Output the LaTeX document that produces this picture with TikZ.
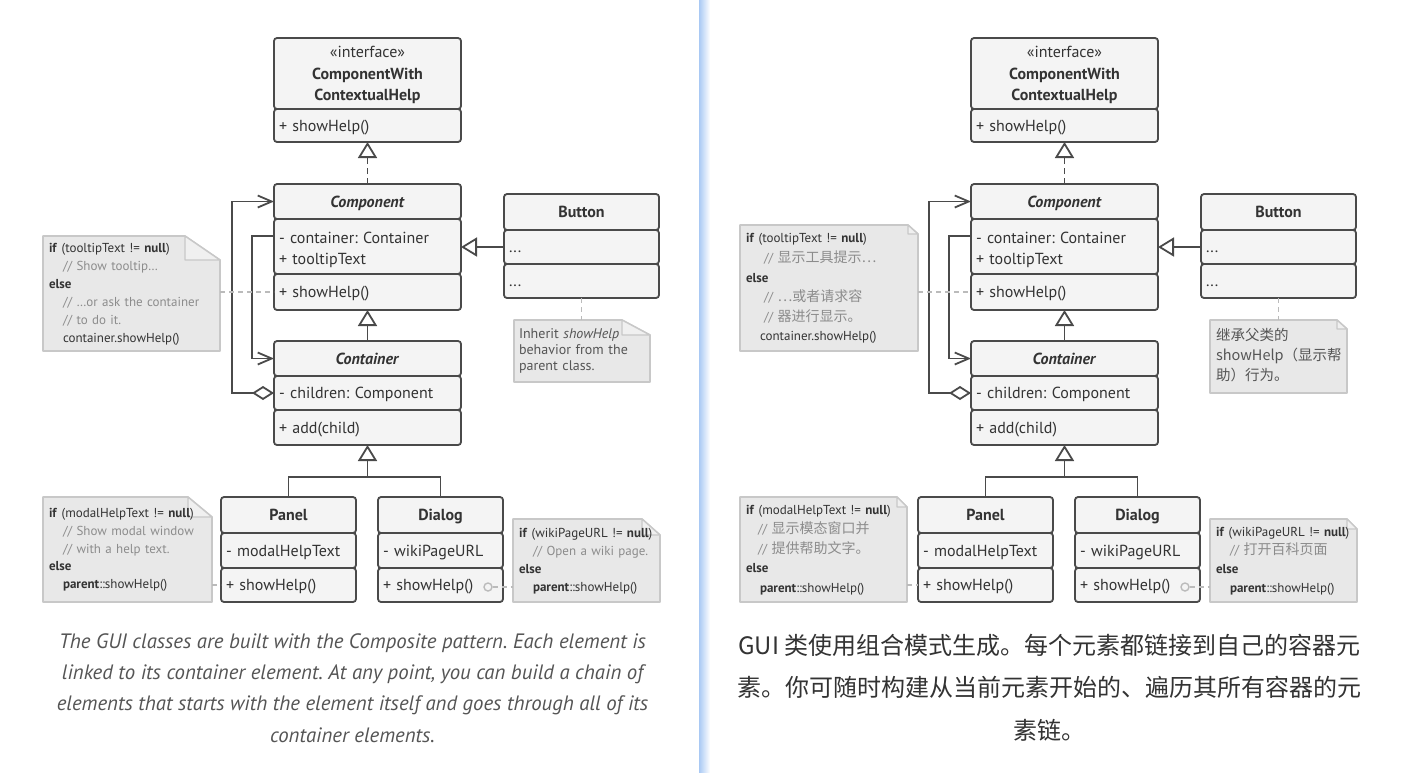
\documentclass[tikz,border=0pt]{standalone}
\usepackage{fontspec}
\setmainfont{PT Sans}
\newfontfamily\cjk{Noto Sans CJK SC}
\usetikzlibrary{arrows.meta,calc}
\pgfdeclarelayer{bg}\pgfsetlayers{bg,main}
\frenchspacing
\definecolor{lineC}{HTML}{4A4A4A}
\definecolor{fillC}{HTML}{F4F4F4}
\definecolor{noteF}{HTML}{E8E8E8}
\definecolor{foldF}{HTML}{F0F0F0}
\definecolor{noteB}{HTML}{C8C8C8}
\definecolor{connC}{HTML}{BBBBBB}
\definecolor{txt}{HTML}{333333}
\definecolor{cmt}{HTML}{8C8C8C}
\definecolor{capC}{HTML}{555555}
\definecolor{divB}{HTML}{A9C9F4}
\newcommand\zh[1]{{\cjk\fontsize{14}{19}\selectfont #1}}
\tikzset{
  part/.style={draw=lineC, fill=fillC, line width=1.8pt, rounded corners=3pt, outer sep=0pt,
    inner xsep=5pt, inner ysep=0pt, anchor=north west, text=txt, align=left,
    font=\fontsize{16}{21.5}\selectfont},
  one/.style={text height=14pt, text depth=3pt},
  hdr/.style={align=center, font=\bfseries\fontsize{16}{21.5}\selectfont},
  gen/.style={draw=lineC, line width=1.8pt, -{Triangle[open, length=16pt, width=19pt]}},
  real/.style={gen, dash pattern=on 6pt off 4pt},
  plain/.style={draw=lineC, line width=1.8pt},
  assoc/.style={draw=lineC, line width=1.8pt, -{Straight Barb[length=14pt, width=12pt]}},
  agg/.style={draw=lineC, line width=1.8pt, {Diamond[open, length=22pt, width=14pt]}-{Straight Barb[length=14pt, width=12pt]}},
  nconn/.style={draw=connC, line width=1.6pt, dash pattern=on 5pt off 4pt},
  note/.style={anchor=north west, inner xsep=6pt, inner ysep=0pt, outer sep=0pt, align=left, text=txt,
    font=\fontsize{13}{18}\selectfont},
  noteline/.style={draw=noteB, fill=noteF, line width=1.6pt, line join=round},
  foldline/.style={draw=noteB, fill=foldF, line width=1.4pt, line join=round},
  dcirc/.style={circle, draw=connC, fill=fillC, line width=1.4pt, minimum size=8pt, inner sep=0pt},
}
% note outline with dog-ear: name, fold width, fold height
\newcommand\noteshape[3]{%
  \begin{pgfonlayer}{bg}
  \path[noteline] (#1.north west) -- ($(#1.north east)+(-#2,0)$) -- ($(#1.north east)+(0,#3)$)
     -- (#1.south east) -- (#1.south west) -- cycle;
  \path[foldline] ($(#1.north east)+(-#2,0)$) -- ($(#1.north east)+(-#2,#3)$) -- ($(#1.north east)+(0,#3)$) -- cycle;
  \end{pgfonlayer}}
\newcommand\classes{%
  % interface
  \node[part,hdr,minimum width=187pt,text width=177pt,minimum height=71pt,text height=14pt,text depth=46pt] (ih) at (274,38)
    {{\mdseries «interface»}\\ComponentWith\\ContextualHelp};
  \node[part,one,minimum width=187pt,text width=177pt,minimum height=33pt] (im) at (ih.south west) {+ showHelp()};
  % component
  \node[part,hdr,one,minimum width=187pt,text width=177pt,minimum height=35pt] (ch) at (274,184) {\textit{Component}};
  \node[part,minimum width=187pt,text width=177pt,minimum height=55pt,text height=14pt,text depth=21pt] (ca) at (ch.south west) {- container: Container\\+ tooltipText};
  \node[part,one,minimum width=187pt,text width=177pt,minimum height=36pt] (cm) at (ca.south west) {+ showHelp()};
  % container
  \node[part,hdr,one,minimum width=187pt,text width=177pt,minimum height=35pt] (kh) at (274,341) {\textit{Container}};
  \node[part,one,minimum width=187pt,text width=177pt,minimum height=34pt] (ka) at (kh.south west) {- children: Component};
  \node[part,one,minimum width=187pt,text width=177pt,minimum height=35pt] (km) at (ka.south west) {+ add(child)};
  % button
  \node[part,hdr,one,minimum width=155pt,text width=145pt,minimum height=36pt] (bh) at (504,194) {Button};
  \node[part,one,minimum width=155pt,text width=145pt,minimum height=34pt] (ba) at (bh.south west) {...};
  \node[part,one,minimum width=155pt,text width=145pt,minimum height=34pt] (bm) at (ba.south west) {...};
  % panel
  \node[part,hdr,one,minimum width=135pt,text width=125pt,minimum height=36pt] (ph) at (221,497) {Panel};
  \node[part,one,minimum width=135pt,text width=125pt,minimum height=35pt] (pa) at (ph.south west) {- modalHelpText};
  \node[part,one,minimum width=135pt,text width=125pt,minimum height=34pt] (pm) at (pa.south west) {+ showHelp()};
  % dialog
  \node[part,hdr,one,minimum width=125pt,text width=115pt,minimum height=36pt] (dh) at (378,497) {Dialog};
  \node[part,one,minimum width=125pt,text width=115pt,minimum height=35pt] (da) at (dh.south west) {- wikiPageURL};
  \node[part,one,minimum width=125pt,text width=115pt,minimum height=34pt] (dm) at (da.south west) {+ showHelp()};
  \node[dcirc] (dc) at ($(dm.east)+(-15,2)$) {};
  % relations
  \draw[real] (ch.north) -- (im.south);
  \draw[gen] (kh.north) -- (cm.south);
  \coordinate (j) at ($(km.south)+(0,32)$);
  \draw[plain] (ph.north) |- (j);
  \draw[plain] (dh.north) |- (j);
  \draw[gen] (j) -- (km.south);
  \draw[gen] (ba.west) -- (ba.west -| ca.east);
  \draw[assoc] ($(ca.north west)+(0,17)$) -- ++(-22,0) |- (kh.west);
  \draw[agg] (ka.west) -- ++(-42,0) |- (ch.west);
}
\begin{document}
\begin{tikzpicture}[x=1pt,y=-1pt]
\useasboundingbox (0,0) rectangle (1403,772);
\begin{pgfonlayer}{bg}
\fill[white] (0,0) rectangle (1403,772);
% divider
\shade[left color=divB, right color=white] (699,0) rectangle (710,772);
\end{pgfonlayer}

% ---------------- left panel ----------------
\begin{scope}[name prefix=l-]
\classes
\node[note, text width=165pt, minimum height=115pt] (n1) at (43,236) {\begin{tabular}{@{}l@{}}
\textbf{if} (tooltipText != \textbf{null})\\
\hspace{14pt}\textcolor{cmt}{// Show tooltip…}\\
\textbf{else}\\
\hspace{14pt}\textcolor{cmt}{// …or ask the container}\\
\hspace{14pt}\textcolor{cmt}{// to do it.}\\
\hspace{14pt}container.showHelp()
\end{tabular}};
\noteshape{n1}{35}{24}
\node[note, inner xsep=5pt, text width=126pt, minimum height=62pt, font=\fontsize{14}{16}\selectfont, text=capC] (n2) at (514,320) {\begin{tabular}{@{}l@{}}
Inherit \textit{showHelp}\\
behavior from the\\
parent class.
\end{tabular}};
\noteshape{n2}{28}{15}
\node[note, text width=157pt, minimum height=105pt, font=\fontsize{13}{17.75}\selectfont] (n3) at (43,497) {\begin{tabular}{@{}l@{}}
\textbf{if} (modalHelpText != \textbf{null})\\
\hspace{14pt}\textcolor{cmt}{// Show modal window}\\
\hspace{14pt}\textcolor{cmt}{// with a help text.}\\
\textbf{else}\\
\hspace{14pt}\textbf{parent}::showHelp()
\end{tabular}};
\noteshape{n3}{24}{20}
\node[note, text width=135pt, minimum height=83pt] (n4) at (513,519) {\begin{tabular}{@{}l@{}}
\textbf{if} (wikiPageURL != \textbf{null})\\
\hspace{14pt}\textcolor{cmt}{// Open a wiki page.}\\
\textbf{else}\\
\hspace{14pt}\textbf{parent}::showHelp()
\end{tabular}};
\noteshape{n4}{18}{16}
\draw[nconn] (cm.west -| n1.east) -- (cm.west);
\draw[nconn] (bm.south) -- (bm.south |- n2.north);
\draw[nconn] (pm.west -| n3.east) -- (pm.west);
\draw[nconn] (dc.east) -- (dc.east -| n4.west);
\end{scope}

% ---------------- right panel ----------------
\begin{scope}[xshift=697pt, name prefix=r-]
\classes
\node[note, text width=166pt, minimum height=126pt, font=\fontsize{13}{19.6}\selectfont] (n1) at (43,225) {\begin{tabular}{@{}l@{}}
\textbf{if} (tooltipText != \textbf{null})\\
\hspace{18pt}\textcolor{cmt}{// \zh{显示工具提示⋯}}\\
\textbf{else}\\
\hspace{18pt}\textcolor{cmt}{// \zh{⋯或者请求容}}\\
\hspace{18pt}\textcolor{cmt}{// \zh{器进行显示。}}\\
\hspace{14pt}container.showHelp()
\end{tabular}};
\noteshape{n1}{10}{9}
\node[note, inner xsep=6pt, text width=125pt, minimum height=73pt, font=\cjk\fontsize{14.5}{20}\selectfont, text=capC] (n2) at (513,320) {\begin{tabular}{@{}l@{}}
\cjk 继承父类的\\
\cjk showHelp（显示帮\\
\cjk 助）行为。
\end{tabular}};
\noteshape{n2}{10}{9}
\node[note, text width=155pt, minimum height=105pt, font=\fontsize{13}{19.5}\selectfont] (n3) at (43,497) {\begin{tabular}{@{}l@{}}
\textbf{if} (modalHelpText != \textbf{null})\\
\hspace{12pt}\textcolor{cmt}{// \zh{显示模态窗口并}}\\
\hspace{12pt}\textcolor{cmt}{// \zh{提供帮助文字。}}\\
\textbf{else}\\
\hspace{14pt}\textbf{parent}::showHelp()
\end{tabular}};
\noteshape{n3}{10}{10}
\node[note, text width=135pt, minimum height=83pt, font=\fontsize{13}{18.7}\selectfont] (n4) at (513,519) {\begin{tabular}{@{}l@{}}
\textbf{if} (wikiPageURL != \textbf{null})\\
\hspace{14pt}\textcolor{cmt}{// \zh{打开百科页面}}\\
\textbf{else}\\
\hspace{14pt}\textbf{parent}::showHelp()
\end{tabular}};
\noteshape{n4}{10}{10}
\draw[nconn] (cm.west -| n1.east) -- (cm.west);
\draw[nconn] (bm.south) -- (bm.south |- n2.north);
\draw[nconn] (pm.west -| n3.east) -- (pm.west);
\draw[nconn] (dc.east) -- (dc.east -| n4.west);
\end{scope}

% captions
\node[align=center, text=capC, font=\itshape\fontsize{20.8}{31.3}\selectfont] (capl) at (352.5,688)
  {The GUI classes are built with the Composite pattern. Each element is\\
   linked to its container element. At any point, you can build a chain of\\
   elements that starts with the element itself and goes through all of its\\
   container elements.};
\node[align=center, text=txt, font=\cjk\fontsize{24}{42.5}\selectfont] (capr) at (1049.5,687.5)
  {GUI 类使用组合模式生成。每个元素都链接到自己的容器元\\
   素。你可随时构建从当前元素开始的、遍历其所有容器的元\\
   素链。};
\end{tikzpicture}
\end{document}
